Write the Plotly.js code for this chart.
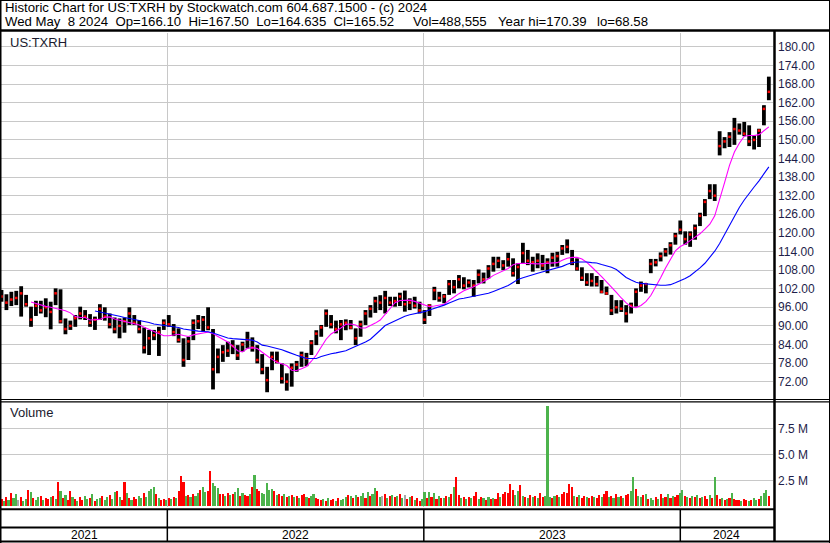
<!DOCTYPE html>
<html><head><meta charset="utf-8">
<script src="https://cdn.plot.ly/plotly-3.0.1.min.js"></script>
<style>html,body{margin:0;padding:0;background:#fff;}#chart{width:830px;height:543px;}</style>
</head><body><div id="chart"></div>
<script>
// ---- data (weekly bars starting Monday 2021-05-10) ----
const weekStart = '2021-05-10';
const high = [101.6,100.2,101.0,101.3,102.8,100.0,96.2,98.1,98.1,98.9,
97.8,102.1,101.8,92.4,91.7,93.5,96.2,95.1,93.8,93.0,
97.0,96.0,94.0,92.7,92.4,92.7,96.0,93.5,91.9,89.5,
88.7,88.7,89.7,92.1,93.5,90.6,89.2,86.0,86.5,92.1,
93.5,93.2,96.0,89.0,82.7,83.8,84.9,85.4,83.8,84.9,
88.1,86.3,83.8,80.9,76.8,81.7,81.7,77.9,74.7,77.9,
78.7,81.7,81.3,85.4,88.6,90.3,95.3,93.5,91.7,91.9,
92.1,91.9,89.2,91.7,95.1,96.7,99.4,99.9,101.3,99.4,
99.4,100.7,101.4,98.9,99.4,97.8,95.1,97.0,102.6,101.0,
100.3,104.8,104.8,106.4,105.7,105.0,104.8,108.2,107.2,109.6,
112.3,112.3,111.2,113.6,111.8,110.2,116.8,114.5,112.3,113.4,
112.9,111.8,113.6,113.9,116.1,117.9,114.5,111.8,108.9,107.0,
107.0,106.1,104.8,102.7,100.0,98.3,98.3,96.7,97.5,102.1,
104.3,103.8,111.6,111.6,113.7,115.1,117.0,120.0,124.0,120.5,
120.5,122.7,126.5,130.9,135.7,135.7,152.8,150.9,152.5,157.1,
155.3,155.8,154.7,151.4,153.6,161.2,170.4];
const low = [97.8,95.1,96.4,96.7,93.0,96.2,89.7,93.2,94.0,92.8,
88.9,96.7,90.8,87.3,88.7,89.7,92.1,91.9,89.7,88.7,
91.9,91.7,89.2,87.6,86.0,87.8,90.3,90.3,87.6,81.1,
80.6,85.4,80.3,88.7,89.7,86.7,84.6,76.8,79.0,85.4,
89.0,88.1,88.6,69.5,74.7,78.4,80.0,80.9,79.0,81.7,
82.7,81.7,77.9,74.4,68.6,75.7,77.9,71.4,69.1,70.4,
75.2,76.8,77.0,80.6,83.8,86.5,89.7,89.2,87.6,85.4,
88.6,88.9,83.8,86.5,90.3,92.7,94.2,95.1,94.0,96.4,
96.2,96.4,94.6,95.1,95.6,94.0,90.6,93.2,98.3,97.8,
97.3,100.0,100.5,102.1,101.8,102.4,99.4,103.7,103.7,105.3,
107.5,108.6,108.0,109.1,105.9,103.5,110.2,109.6,107.5,108.6,
108.0,107.0,109.1,109.1,112.9,113.4,109.6,107.8,104.5,102.9,
102.7,102.7,100.5,100.0,93.5,94.0,94.5,91.1,94.0,96.2,
101.0,100.5,107.0,109.2,110.8,112.4,113.0,116.2,119.5,116.2,
115.5,117.8,122.2,125.4,130.9,130.3,145.0,147.3,147.7,148.4,
151.7,151.2,148.0,146.9,147.7,154.7,162.8];
const close = [99.5,97.5,98.5,99.0,100.5,97.0,92.0,96.5,95.0,96.0,
94.5,100.5,91.5,89.0,90.0,92.5,94.0,93.0,91.0,92.0,
95.5,93.0,90.5,89.0,90.0,91.5,94.0,91.0,89.0,83.0,
86.0,87.0,88.0,91.0,90.5,88.0,85.5,79.0,85.0,91.0,
91.5,92.0,89.5,76.0,80.0,81.5,82.0,83.5,80.5,84.0,
85.5,83.0,79.0,76.0,72.5,80.0,78.5,73.0,72.0,76.5,
77.5,80.5,79.5,84.5,87.5,89.5,94.0,90.5,89.0,90.5,
91.0,89.5,86.0,90.5,94.0,95.5,98.0,97.5,99.0,97.5,
98.0,99.5,97.0,97.5,96.5,95.0,92.0,96.5,101.5,99.0,
99.5,103.5,102.5,105.0,103.0,104.0,103.0,106.5,105.0,108.5,
110.0,111.0,109.5,111.5,107.0,109.0,113.5,111.0,110.5,111.0,
109.5,110.5,112.0,112.5,115.0,115.5,110.5,108.5,105.5,104.0,
104.5,103.5,101.0,100.5,95.0,96.0,95.5,94.0,96.5,101.0,
103.0,103.5,110.0,110.5,112.5,114.0,116.0,119.0,121.0,118.0,
119.5,121.5,125.5,130.0,133.5,132.0,148.0,149.5,151.0,153.5,
153.0,152.0,149.5,150.0,153.0,160.0,165.5];
const maShort = [null,null,null,null,null,null,97.7,97.2,96.7,96.3,
96.0,95.7,95.4,94.9,94.2,93.0,92.7,92.7,91.9,92.0,
92.1,92.8,92.9,92.2,91.8,91.4,91.1,90.8,90.3,89.6,
88.9,88.1,87.4,86.8,86.8,87.0,87.3,86.9,86.6,87.1,
87.3,87.7,88.0,87.5,86.6,85.7,84.8,83.5,82.0,81.6,
82.8,83.0,82.7,81.5,80.2,79.2,78.3,77.8,77.2,75.7,
75.6,76.2,76.9,78.6,80.6,83.2,85.7,87.4,88.3,89.3,
90.5,90.6,90.3,89.3,89.3,90.0,90.9,91.9,93.8,95.5,
97.5,98.2,98.3,98.3,97.9,97.4,96.7,96.2,96.4,96.7,
97.0,98.2,99.4,100.4,101.3,101.9,102.6,103.4,104.2,105.2,
106.3,107.0,107.6,108.5,109.7,110.1,110.2,110.1,110.1,110.0,
110.1,110.2,110.3,110.4,111.2,111.8,112.1,112.1,111.6,110.5,
109.0,107.6,105.9,104.2,102.6,100.8,99.0,97.4,96.2,95.9,
96.6,97.8,99.8,102.5,105.5,108.7,111.7,114.2,115.6,116.4,
117.5,118.6,119.7,121.2,122.8,125.5,130.5,136.2,141.8,146.1,
148.9,151.2,151.4,151.4,151.7,152.9,154.2];
const maLong = [null,null,null,null,null,null,null,null,null,null,
null,null,null,null,null,null,null,null,null,94.8,
94.5,94.2,93.8,93.4,93.1,92.7,92.4,92.1,91.9,91.6,
91.1,90.6,90.4,90.2,90.0,89.9,89.5,89.0,88.7,88.4,
88.3,88.2,88.1,87.7,87.2,86.6,86.1,85.9,85.8,85.6,
85.5,85.4,84.8,83.8,83.5,83.1,82.8,82.3,81.7,81.0,
80.5,80.0,79.5,79.5,79.5,80.1,80.6,81.0,81.3,81.7,
82.0,82.7,83.4,84.0,84.8,85.7,87.0,88.6,90.1,90.9,
91.6,92.4,93.1,93.6,93.9,94.3,94.6,95.1,95.6,96.1,
96.7,97.4,98.1,98.7,98.9,99.2,99.4,99.9,100.2,100.5,
101.1,101.7,102.3,103.0,104.0,105.0,105.5,106.1,106.5,107.0,
107.4,107.8,108.2,108.6,109.2,109.9,110.4,110.6,110.7,110.6,
110.4,110.3,109.8,109.4,108.9,108.2,106.8,105.6,104.8,104.1,
103.7,103.5,103.3,103.2,103.1,103.1,103.3,103.9,104.5,105.3,
106.2,107.4,108.7,110.2,112.0,114.1,116.6,119.5,122.4,125.4,
128.2,130.6,132.9,134.8,136.8,139.1,141.3];
// volume (millions), two samples per week (Mon / Thu)
const volumeM = [0.7,0.5,0.9,0.6,1.3,0.8,1.2,0.6,0.9,0.5,
0.7,1.6,1.4,0.8,0.6,0.9,1.0,0.6,0.8,0.7,
0.9,1.0,0.7,2.4,1.5,0.8,1.1,0.6,1.5,0.9,
0.7,0.5,0.9,0.6,1.0,0.7,0.8,1.2,0.5,0.7,
0.8,1.0,0.6,0.9,1.1,0.7,1.4,1.5,0.9,0.6,
2.4,1.3,0.8,0.6,0.9,0.7,1.0,0.8,1.3,0.9,
1.5,1.7,1.9,1.2,0.8,0.6,0.7,0.6,0.8,0.7,
0.9,0.8,1.5,2.9,2.4,1.0,1.1,0.9,1.2,1.0,
1.3,1.6,1.9,1.4,1.5,3.4,2.3,2.0,1.8,1.2,
1.2,1.0,1.3,1.1,1.2,1.4,1.8,1.0,1.3,1.1,
1.0,1.2,1.9,3.0,1.7,1.5,1.3,1.2,2.3,1.6,
1.7,1.5,1.1,1.2,1.0,1.2,0.9,1.0,1.1,0.9,
1.0,0.8,1.1,1.2,0.9,0.8,1.0,1.2,0.8,0.7,
0.6,0.7,0.5,0.8,0.6,0.7,0.5,0.8,0.6,0.7,
0.9,1.1,1.0,0.8,1.1,0.9,1.0,1.3,0.8,1.4,
1.0,1.2,1.8,1.5,0.9,1.0,1.2,0.8,1.0,1.1,
0.9,1.0,1.2,0.8,1.1,0.7,0.9,1.0,0.6,0.8,
0.5,0.7,1.4,0.8,1.4,0.9,1.3,0.7,1.0,0.8,
0.8,1.0,0.9,1.2,1.9,2.8,1.1,0.8,0.9,0.7,
0.9,0.8,1.0,1.4,0.7,0.9,0.8,0.6,0.9,0.7,
0.8,0.7,1.3,0.9,1.2,1.4,1.3,2.2,1.6,1.1,
1.5,2.1,1.0,0.9,0.8,1.1,0.9,1.0,0.8,1.3,
0.9,1.0,9.7,0.9,0.8,1.0,1.1,0.9,1.2,1.4,
1.3,2.2,1.9,1.0,0.9,1.1,0.8,1.0,0.9,0.8,
1.0,0.9,0.8,1.1,0.9,1.2,1.5,0.9,1.0,0.8,
1.2,0.9,1.0,0.8,1.1,1.2,1.5,2.8,1.7,1.0,
0.9,1.1,1.2,0.7,0.8,0.6,0.9,0.7,1.2,0.8,
0.9,1.2,0.8,1.0,0.9,1.1,1.3,1.6,1.0,0.9,
0.8,1.0,0.9,1.1,0.8,0.9,1.0,0.7,1.1,0.8,
2.85,1.1,0.7,0.8,0.6,0.7,0.8,1.3,0.7,0.6,
0.6,0.5,0.7,0.6,0.5,0.6,0.8,0.6,0.7,1.0,
1.3,1.6,1.0];
// r = down day, g = up day, n = unchanged
const volumeDir = ('rgrgrggnrg'+'grgrggrgrr'+'grgrgrgrrg'+'rgrrggrgrg'+'grggrggrgr'+
'rgrgrrggrg'+'gggrgrrgrg'+'rgrrrgrgrg'+'grggrrgggr'+'rgrgrggrgr'+
'rgrgrrgggg'+'grgrrgrgrg'+'rgrrgrggrr'+'rgrgrrgrgg'+'grgrgrggrg'+
'rggrgnrgrg'+'rgrgnrgrgr'+'rggrgrgrgr'+'grgrgrrgrg'+'rgrrgrgrgr'+
'grrgrrrrrg'+'grgrgrgrgr'+'rgggrgrgrr'+'rrrgrgrrgr'+'rgrrgrrgrg'+
'rgrgrrggrg'+'grgrggrgrg'+'rgrgrrggrg'+'rgrgrgrrgr'+'grrgrgrgrr'+
'rgrrgrggrg'+'ggr').split('');
const priceTicks = [72,78,84,90,96,102,108,114,120,126,132,138,144,150,156,162,168,174,180];
const volTickVals = [2.5,5.0,7.5];
const volTickText = ['2.5 M','5.0 M','7.5 M'];
const yearBounds = ['2022-01-01','2023-01-01','2024-01-01'];
const yearLabels = ['2021','2022','2023','2024'];
const xRange = ['2021-05-09 07:00','2024-05-11 22:00'];
const titleLine1 = 'Historic Chart for US:TXRH by Stockwatch.com 604.687.1500 - (c) 2024';
const titleLine2Parts = ['Wed May  8 2024  Op=166.10  Hi=167.50  Lo=164.635  Cl=165.52', 'Vol=488,555', 'Year hi=170.39', 'lo=68.58'];
const titleLine2X = [3, 411, 496, 595];
const symbolLabel = 'US:TXRH';

// ---- helpers ----
function addDays(iso, n){const d=new Date(iso+'T00:00:00Z');d.setUTCDate(d.getUTCDate()+n);return d.toISOString().slice(0,10);}
const weeks = high.map((_,i)=>addDays(weekStart,7*i));
const volDates = volumeM.map((_,j)=>addDays(weekStart,7*Math.floor(j/2)+(j%2?3:0)));
const dirColor = {r:'#ff0000', g:'#4cb34c', n:'#a8a8a8'};
const volColors = volumeDir.map(c=>dirColor[c]);
const W=830,H=543;
const px=x=>x/W, py=y=>1-y/H;
const FONT='Liberation Sans, Arial, sans-serif';
const nb=s=>s.replace(/ /g,'\u00a0');
const ms=s=>new Date(s.replace(' ','T')+'Z').getTime();
const iso=t=>new Date(t).toISOString().slice(0,19).replace('T',' ');
const spans=[xRange[0]].concat(yearBounds).concat([xRange[1]]);
const yearMids=yearLabels.map((_,k)=>iso((ms(spans[k])+ms(spans[k+1]))/2));

const traces = [
 {type:'bar', x:volDates, y:volumeM, xaxis:'x2', yaxis:'y2', width:3*86400000,
  marker:{color:volColors, line:{width:0}}, hoverinfo:'skip'},
 {type:'ohlc', x:weeks, open:close, high:high, low:low, close:close, xaxis:'x', yaxis:'y',
  tickwidth:0, increasing:{line:{color:'#000',width:3.8}}, decreasing:{line:{color:'#000',width:3.8}}, hoverinfo:'skip'},
 {type:'scatter', mode:'markers', x:weeks, y:close, xaxis:'x', yaxis:'y',
  marker:{symbol:'square', size:2.5, color:'#ff0000'}, hoverinfo:'skip'},
 {type:'scatter', mode:'lines', x:weeks, y:maShort, xaxis:'x', yaxis:'y',
  line:{color:'#ff00ff', width:1.1}, hoverinfo:'skip'},
 {type:'scatter', mode:'lines', x:weeks, y:maLong, xaxis:'x', yaxis:'y',
  line:{color:'#0000ff', width:1.1}, hoverinfo:'skip'}
];

const L=(x0,y0,x1,y1,w)=>({type:'line',xref:'paper',yref:'paper',x0:px(x0),x1:px(x1),y0:py(y0),y1:py(y1),line:{color:'#000',width:w}});
const shapes = [
 L(0.5,0,0.5,543,2), L(829.5,0,829.5,543,1), L(0,0.5,830,0.5,1),
 L(0,30.5,830,30.5,2.5),
 L(774.5,31,774.5,542,2.5),
 L(0,399.5,830,399.5,1.2), L(0,401.8,830,401.8,1.2),
 L(0,509.3,774,509.3,2), L(0,527.5,774,527.5,2), L(0,541.5,830,541.5,2)
];
yearBounds.forEach(d=>shapes.push({type:'line',xref:'x',yref:'paper',x0:d,x1:d,y0:py(509),y1:py(541),line:{color:'#000',width:1.5}}));

const annotations = [
 {xref:'paper',yref:'paper',x:px(3),y:py(8),xanchor:'left',yanchor:'middle',showarrow:false,text:nb(titleLine1),font:{family:FONT,size:13.2,color:'#000'}},
 {xref:'paper',yref:'paper',x:px(8),y:py(42),xanchor:'left',yanchor:'middle',showarrow:false,text:symbolLabel,font:{family:FONT,size:13,color:'#1a1a2e'}},
 {xref:'paper',yref:'paper',x:px(8),y:py(413),xanchor:'left',yanchor:'middle',showarrow:false,text:'Volume',font:{family:FONT,size:13,color:'#1a1a2e'}}
];
titleLine2Parts.forEach((t,k)=>annotations.push({xref:'paper',yref:'paper',x:px(titleLine2X[k]),y:py(21),xanchor:'left',yanchor:'middle',showarrow:false,text:nb(t),font:{family:FONT,size:13.2,color:'#000'}}));
yearLabels.forEach((t,k)=>annotations.push({xref:'x',yref:'paper',x:yearMids[k],y:py(535),xanchor:'center',yanchor:'middle',showarrow:false,text:t,font:{family:FONT,size:12,color:'#000'}}));

const xBase = {type:'date', range:xRange, domain:[px(1),px(773)], tickvals:yearBounds, showticklabels:false,
  showgrid:true, gridcolor:'#c8c8c8', gridwidth:1, zeroline:false, showline:false, ticks:'', fixedrange:true,
  rangeslider:{visible:false}};
const layout = {
 width:W, height:H, margin:{l:0,r:0,t:0,b:0,pad:0}, paper_bgcolor:'#fff', plot_bgcolor:'#fff',
 showlegend:false, dragmode:false, hovermode:false,
 xaxis: Object.assign({}, xBase, {anchor:'y'}),
 xaxis2: Object.assign({}, xBase, {anchor:'y2', matches:'x'}),
 yaxis: {domain:[py(397),py(33)], range:[67.06,184.48], side:'right', anchor:'x', tickvals:priceTicks, tickformat:'.2f',
  showgrid:true, gridcolor:'#c8c8c8', gridwidth:1, zeroline:false, showline:false, ticks:'', ticklabelstandoff:4,
  tickfont:{family:FONT,size:12,color:'#1e1e4a'}, fixedrange:true},
 yaxis2: {domain:[py(507),py(403)], range:[-0.05,9.95], side:'right', anchor:'x2', tickvals:volTickVals, ticktext:volTickText,
  showgrid:true, gridcolor:'#c8c8c8', gridwidth:1, zeroline:false, showline:false, ticks:'', ticklabelstandoff:4,
  tickfont:{family:FONT,size:12,color:'#1e1e4a'}, fixedrange:true},
 shapes: shapes, annotations: annotations, bargap:0
};
Plotly.newPlot('chart', traces, layout, {staticPlot:true, displayModeBar:false});
</script>
</body></html>
